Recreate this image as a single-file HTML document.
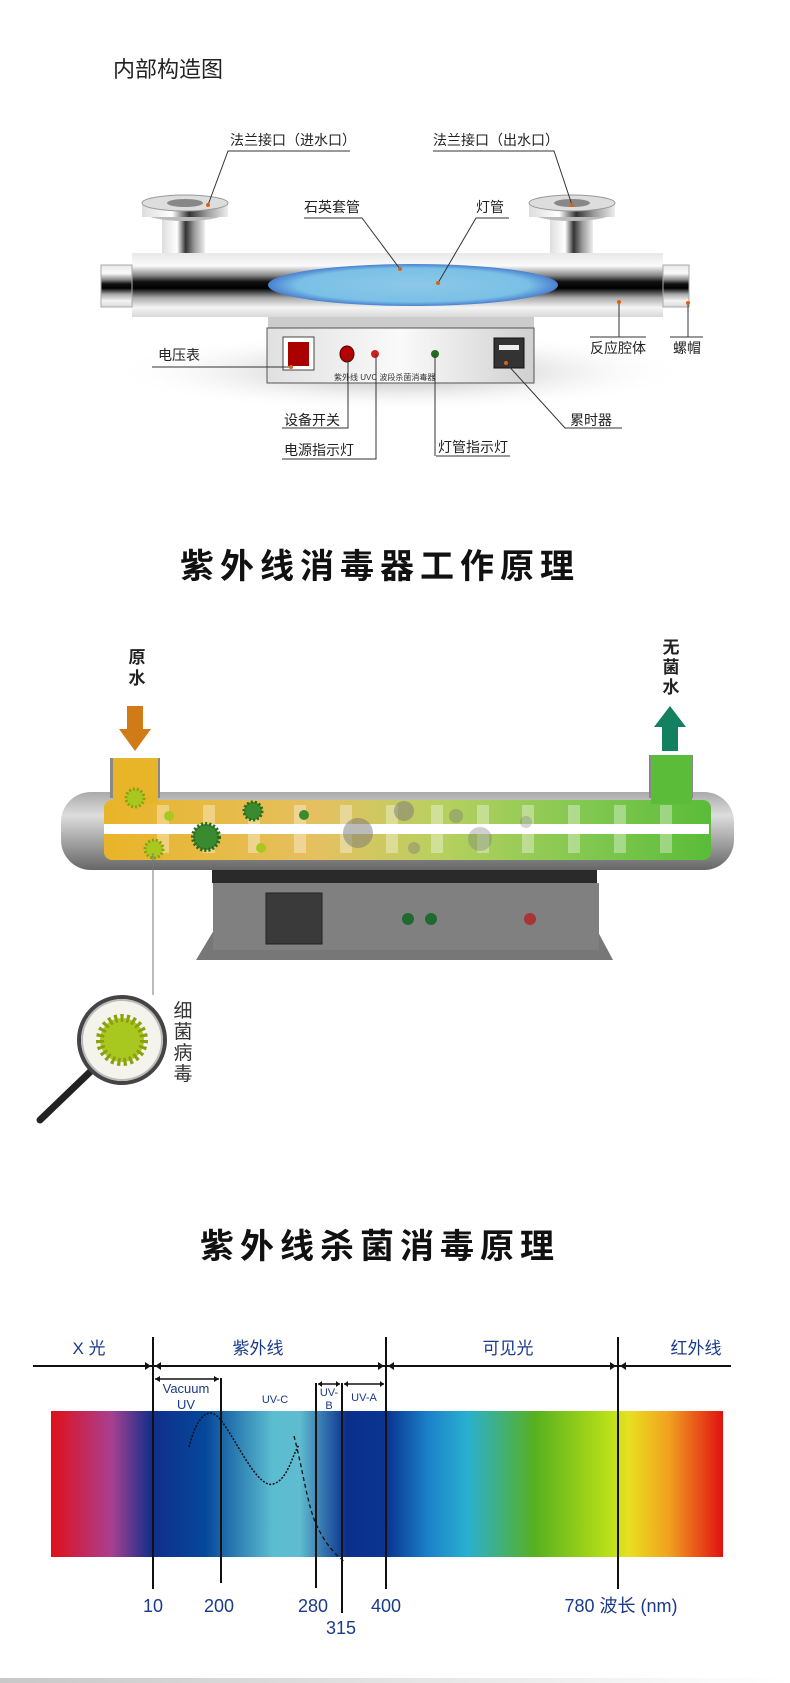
<!DOCTYPE html>
<html><head><meta charset="utf-8"><style>
html,body{margin:0;padding:0;background:#fff}
svg{display:block}
text{font-family:"Liberation Sans","Noto Sans CJK SC",sans-serif}
</style></head><body>
<svg width="790" height="1683" viewBox="0 0 790 1683" xmlns="http://www.w3.org/2000/svg">
<defs>
<linearGradient id="metal" x1="0" y1="0" x2="0" y2="1">
<stop offset="0" stop-color="#e8e8e8"/><stop offset="0.2" stop-color="#fafafa"/><stop offset="0.35" stop-color="#888"/><stop offset="0.45" stop-color="#111"/><stop offset="0.55" stop-color="#000"/><stop offset="0.7" stop-color="#aaa"/><stop offset="0.85" stop-color="#f4f4f4"/><stop offset="1" stop-color="#d8d8d8"/>
</linearGradient>
<linearGradient id="metalH" x1="0" y1="0" x2="1" y2="0">
<stop offset="0" stop-color="#ddd"/><stop offset="0.35" stop-color="#fff"/><stop offset="0.55" stop-color="#333"/><stop offset="0.75" stop-color="#999"/><stop offset="1" stop-color="#eee"/>
</linearGradient>
<linearGradient id="box1" x1="0" y1="0" x2="1" y2="0">
<stop offset="0" stop-color="#e0e0e0"/><stop offset="0.5" stop-color="#fafafa"/><stop offset="1" stop-color="#d0d0d0"/>
</linearGradient>
<radialGradient id="shadow" cx="0.5" cy="0.5" r="0.5">
<stop offset="0" stop-color="#aaa"/><stop offset="1" stop-color="#fff" stop-opacity="0"/>
</radialGradient>
<radialGradient id="blue" cx="0.5" cy="0.5" r="0.5">
<stop offset="0" stop-color="#8cc8e8"/><stop offset="0.8" stop-color="#7ac0e6"/><stop offset="1" stop-color="#4a80d0"/>
</radialGradient>
<linearGradient id="tube2" x1="0" y1="0" x2="0" y2="1">
<stop offset="0" stop-color="#aaa"/><stop offset="0.3" stop-color="#ddd"/><stop offset="0.7" stop-color="#999"/><stop offset="1" stop-color="#666"/>
</linearGradient>
<linearGradient id="water" x1="0" y1="0" x2="1" y2="0">
<stop offset="0" stop-color="#e8b428"/><stop offset="0.35" stop-color="#e6c060"/><stop offset="0.55" stop-color="#b8d060"/><stop offset="0.8" stop-color="#80c850"/><stop offset="1" stop-color="#5abc38"/>
</linearGradient>
<linearGradient id="spec" x1="0" y1="0" x2="1" y2="0">
<stop offset="0" stop-color="#e0101a"/>
<stop offset="0.09" stop-color="#a84090"/>
<stop offset="0.15" stop-color="#102e8a"/>
<stop offset="0.23" stop-color="#05489a"/>
<stop offset="0.33" stop-color="#5bbdd0"/>
<stop offset="0.37" stop-color="#60bcd0"/>
<stop offset="0.44" stop-color="#0a2f8c"/>
<stop offset="0.5" stop-color="#0a3590"/>
<stop offset="0.56" stop-color="#1a80c8"/>
<stop offset="0.62" stop-color="#2ab0d0"/>
<stop offset="0.72" stop-color="#58b020"/>
<stop offset="0.83" stop-color="#b8e018"/>
<stop offset="0.86" stop-color="#e8e020"/>
<stop offset="0.92" stop-color="#f0a020"/>
<stop offset="1" stop-color="#e01010"/>
</linearGradient>
<linearGradient id="bot" x1="0" y1="0" x2="1" y2="0"><stop offset="0" stop-color="#c8c8c8"/><stop offset="1" stop-color="#fff"/></linearGradient>
</defs>

<!-- Section 1 -->
<text x="113" y="77" font-size="22" fill="#222">内部构造图</text>

<ellipse cx="400" cy="372" rx="290" ry="40" fill="url(#shadow)"/>
<rect x="162" y="218" width="43" height="40" fill="url(#metalH)"/>
<rect x="550" y="218" width="43" height="40" fill="url(#metalH)"/>
<ellipse cx="185" cy="211" rx="43" ry="10" fill="#bbb"/>
<rect x="142" y="203" width="86" height="14" fill="url(#metalH)"/>
<ellipse cx="185" cy="203" rx="43" ry="8" fill="#ddd" stroke="#999"/>
<ellipse cx="185" cy="203" rx="18" ry="4" fill="#888"/>
<ellipse cx="572" cy="211" rx="43" ry="10" fill="#bbb"/>
<rect x="529" y="203" width="86" height="14" fill="url(#metalH)"/>
<ellipse cx="572" cy="203" rx="43" ry="8" fill="#ddd" stroke="#999"/>
<ellipse cx="572" cy="203" rx="18" ry="4" fill="#888"/>
<rect x="268" y="312" width="266" height="18" fill="#ccc"/>
<rect x="267" y="328" width="267" height="55" fill="url(#box1)" stroke="#555"/>
<rect x="132" y="253" width="531" height="64" fill="url(#metal)"/>
<rect x="101" y="265" width="31" height="42" fill="url(#metal)" stroke="#aaa"/>
<rect x="663" y="265" width="26" height="42" fill="url(#metal)" stroke="#aaa"/>
<ellipse cx="413" cy="285" rx="145" ry="21" fill="url(#blue)"/>
<rect x="283" y="337" width="31" height="33" fill="#fff" stroke="#444"/>
<rect x="288" y="342" width="21" height="24" fill="#a00"/>
<ellipse cx="347" cy="354" rx="7" ry="8" fill="#b00" stroke="#400"/>
<circle cx="375" cy="354" r="4" fill="#d02020"/>
<circle cx="435" cy="354" r="4" fill="#207020"/>
<rect x="494" y="338" width="30" height="30" fill="#333" stroke="#111"/>
<rect x="499" y="345" width="20" height="5" fill="#eee"/>
<text x="334" y="380" font-size="8" fill="#333">紫外线 UVC 波段杀菌消毒器</text>
<g stroke="#333" stroke-width="1" fill="none">
<polyline points="350,151 228,151 208,205"/>
<polyline points="433,151 554,151 572,205"/>
<polyline points="304,218 362,218 400,269"/>
<polyline points="509,218 476,218 438,283"/>
<polyline points="590,337 646,337"/><line x1="619" y1="337" x2="619" y2="302"/>
<polyline points="670,337 703,337"/><line x1="688" y1="337" x2="688" y2="303"/>
<polyline points="152,367 291,367"/>
<polyline points="282,428 348,428 348,354"/>
<polyline points="282,459 376,459 376,354"/>
<polyline points="436,456 510,456"/><line x1="435" y1="456" x2="435" y2="354"/>
<polyline points="622,428 565,428 506,363"/>
</g>
<g fill="#e06010"><circle cx="208" cy="205" r="2"/><circle cx="572" cy="205" r="2"/><circle cx="400" cy="269" r="2"/><circle cx="438" cy="283" r="2"/><circle cx="619" cy="302" r="2"/><circle cx="688" cy="303" r="2"/><circle cx="291" cy="367" r="2"/><circle cx="506" cy="363" r="2"/></g>
<g font-size="14" fill="#222">
<text x="230" y="145">法兰接口（进水口）</text>
<text x="433" y="145">法兰接口（出水口）</text>
<text x="304" y="212">石英套管</text>
<text x="476" y="212">灯管</text>
<text x="590" y="353">反应腔体</text>
<text x="673" y="353">螺帽</text>
<text x="158" y="360">电压表</text>
<text x="284" y="425">设备开关</text>
<text x="284" y="455">电源指示灯</text>
<text x="438" y="452">灯管指示灯</text>
<text x="570" y="425">累时器</text>
</g>

<text x="380" y="578" font-size="34" font-weight="bold" fill="#111" text-anchor="middle" letter-spacing="6">紫外线消毒器工作原理</text>

<text x="137" y="663" font-size="17" font-weight="bold" fill="#222" text-anchor="middle">原</text>
<text x="137" y="684" font-size="17" font-weight="bold" fill="#222" text-anchor="middle">水</text>
<text x="671" y="653" font-size="17" font-weight="bold" fill="#222" text-anchor="middle">无</text>
<text x="671" y="673" font-size="17" font-weight="bold" fill="#222" text-anchor="middle">菌</text>
<text x="671" y="693" font-size="17" font-weight="bold" fill="#222" text-anchor="middle">水</text>
<polygon points="127,706 143,706 143,729 151,729 135,751 119,729 127,729" fill="#d07a18"/>
<polygon points="670,706 686,727 678,727 678,751 662,751 662,727 654,727" fill="#138060"/>

<rect x="61" y="792" width="673" height="78" rx="30" fill="url(#tube2)"/>
<rect x="110" y="758" width="50" height="40" fill="#888"/>
<rect x="649" y="755" width="44" height="43" fill="#888"/>
<rect x="104" y="800" width="607" height="60" rx="8" fill="url(#water)"/>
<rect x="113" y="758" width="45" height="46" fill="#e8b428"/>
<rect x="651" y="755" width="41" height="49" fill="#5abc38"/>
<g fill="#fff" opacity="0.35">
<rect x="157" y="805" width="12" height="48"/><rect x="203" y="805" width="12" height="48"/><rect x="248" y="805" width="12" height="48"/><rect x="294" y="805" width="12" height="48"/><rect x="340" y="805" width="12" height="48"/><rect x="386" y="805" width="12" height="48"/><rect x="431" y="805" width="12" height="48"/><rect x="477" y="805" width="12" height="48"/><rect x="522" y="805" width="12" height="48"/><rect x="568" y="805" width="12" height="48"/><rect x="614" y="805" width="12" height="48"/><rect x="660" y="805" width="12" height="48"/>
</g>
<rect x="104" y="824" width="605" height="10" fill="#fff"/>
<g>
<circle cx="135" cy="798" r="9" fill="#a8c820" stroke="#8aa010" stroke-dasharray="2 2" stroke-width="3"/>
<circle cx="154" cy="849" r="9" fill="#a8c820" stroke="#8aa010" stroke-dasharray="2 2" stroke-width="3"/>
<circle cx="169" cy="816" r="5" fill="#a8c820"/>
<circle cx="206" cy="837" r="13" fill="#3a8a30" stroke="#2a6a20" stroke-dasharray="2 2" stroke-width="4"/>
<circle cx="253" cy="811" r="9" fill="#3a8a30" stroke="#2a6a20" stroke-dasharray="2 2" stroke-width="3"/>
<circle cx="261" cy="848" r="5" fill="#a8c820"/>
<circle cx="304" cy="815" r="5" fill="#3a8a30"/>
<circle cx="358" cy="833" r="15" fill="#777" opacity="0.5"/>
<circle cx="404" cy="811" r="10" fill="#777" opacity="0.5"/>
<circle cx="414" cy="848" r="6" fill="#777" opacity="0.4"/>
<circle cx="456" cy="816" r="7" fill="#777" opacity="0.4"/>
<circle cx="480" cy="839" r="12" fill="#777" opacity="0.35"/>
<circle cx="526" cy="822" r="6" fill="#777" opacity="0.3"/>
</g>
<rect x="212" y="870" width="385" height="13" fill="#2a2a2a"/>
<polygon points="214,930 196,960 613,960 597,930" fill="#777"/>
<rect x="213" y="883" width="386" height="67" fill="#808080"/>
<rect x="266" y="893" width="56" height="51" fill="#3a3a3a" stroke="#222"/>
<circle cx="408" cy="919" r="6" fill="#1f6a30"/>
<circle cx="431" cy="919" r="6" fill="#1f6a30"/>
<circle cx="530" cy="919" r="6" fill="#a33"/>
<line x1="153" y1="853" x2="153" y2="995" stroke="#777"/>
<line x1="90" y1="1072" x2="40" y2="1120" stroke="#222" stroke-width="7" stroke-linecap="round"/>
<circle cx="122" cy="1040" r="43" fill="#f4f4ec" stroke="#444" stroke-width="4"/>
<circle cx="122" cy="1040" r="40" fill="none" stroke="#bbb" stroke-width="2"/>
<circle cx="122" cy="1040" r="22" fill="#a8c820" stroke="#8aa010" stroke-dasharray="3 3" stroke-width="8"/>
<g font-size="19" fill="#333" text-anchor="middle">
<text x="183" y="1017">细</text><text x="183" y="1038">菌</text><text x="183" y="1059">病</text><text x="183" y="1080">毒</text>
</g>

<text x="380" y="1258" font-size="34" font-weight="bold" fill="#111" text-anchor="middle" letter-spacing="6">紫外线杀菌消毒原理</text>
<rect x="51" y="1411" width="672" height="146" fill="url(#spec)"/>
<path d="M189,1447 C196,1420 205,1410 214,1414 C228,1420 255,1490 273,1484 C288,1480 292,1455 299,1445" fill="none" stroke="#111" stroke-width="1.5" stroke-dasharray="2 1.5"/>
<path d="M294,1436 C303,1470 308,1510 318,1528 C326,1545 336,1555 345,1562" fill="none" stroke="#111" stroke-width="1.3" stroke-dasharray="4 3"/>
<g stroke="#111" stroke-width="2" fill="none">
<line x1="33" y1="1366" x2="731" y2="1366"/>
<line x1="153" y1="1337" x2="153" y2="1589"/>
<line x1="221" y1="1378" x2="221" y2="1583"/>
<line x1="316" y1="1383" x2="316" y2="1588"/>
<line x1="342" y1="1383" x2="342" y2="1613"/>
<line x1="386" y1="1337" x2="386" y2="1589"/>
<line x1="618" y1="1337" x2="618" y2="1589"/>
<line x1="155" y1="1379" x2="219" y2="1379" stroke-width="1.5"/>
<line x1="318" y1="1384" x2="340" y2="1384" stroke-width="1.5"/>
<line x1="344" y1="1384" x2="384" y2="1384" stroke-width="1.5"/>
</g>
<g fill="#111">
<polygon points="151,1366 145,1362 145,1370"/><polygon points="155,1366 161,1362 161,1370"/>
<polygon points="384,1366 378,1362 378,1370"/><polygon points="388,1366 394,1362 394,1370"/>
<polygon points="616,1366 610,1362 610,1370"/><polygon points="620,1366 626,1362 626,1370"/>
<polygon points="155,1379 160,1376 160,1382"/><polygon points="219,1379 214,1376 214,1382"/>
<polygon points="318,1384 322,1381 322,1387"/><polygon points="340,1384 336,1381 336,1387"/>
<polygon points="344,1384 348,1381 348,1387"/><polygon points="384,1384 380,1381 380,1387"/>
</g>
<g fill="#1a3a8a" text-anchor="middle">
<text x="89" y="1354" font-size="17">X 光</text>
<text x="258" y="1354" font-size="17">紫外线</text>
<text x="508" y="1354" font-size="17">可见光</text>
<text x="696" y="1354" font-size="17">红外线</text>
<text x="186" y="1393" font-size="13">Vacuum</text>
<text x="186" y="1409" font-size="13">UV</text>
<text x="275" y="1403" font-size="11">UV-C</text>
<text x="329" y="1396" font-size="11">UV-</text>
<text x="329" y="1409" font-size="11">B</text>
<text x="364" y="1401" font-size="11">UV-A</text>
<text x="153" y="1612" font-size="18">10</text>
<text x="219" y="1612" font-size="18">200</text>
<text x="313" y="1612" font-size="18">280</text>
<text x="386" y="1612" font-size="18">400</text>
<text x="341" y="1634" font-size="18">315</text>
<text x="621" y="1612" font-size="18">780 波长 (nm)</text>
</g>
<rect x="0" y="1678" width="790" height="5" fill="url(#bot)"/>
</svg>
</body></html>
